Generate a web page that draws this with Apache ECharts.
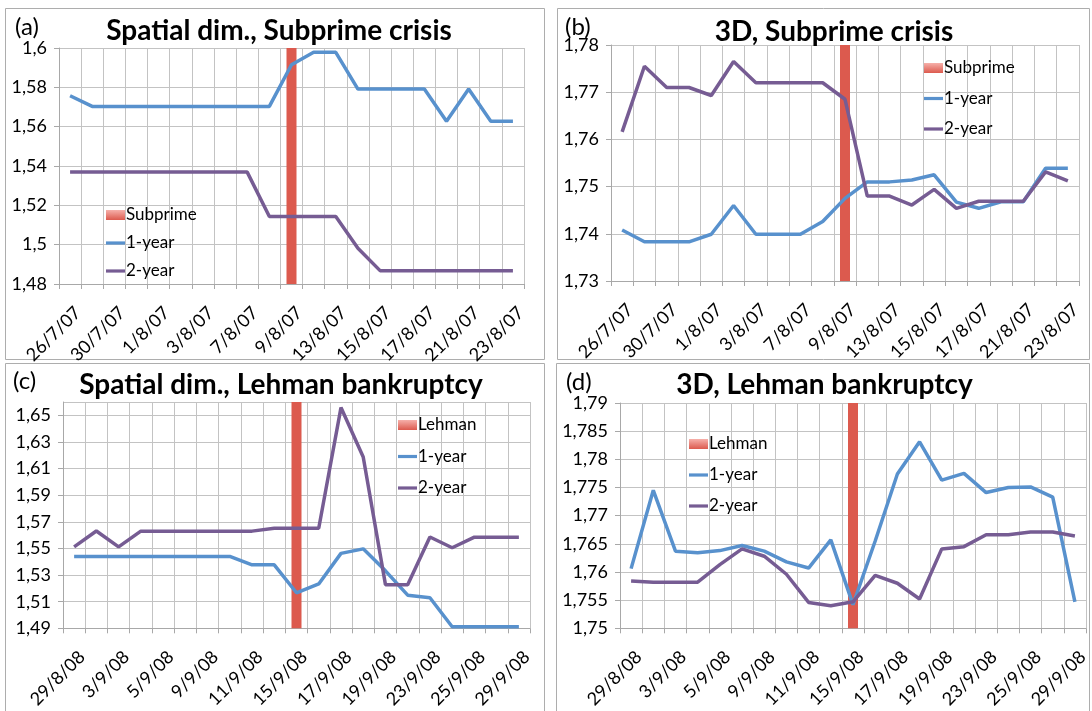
<!DOCTYPE html>
<html>
<head>
<meta charset="utf-8">
<script src="https://cdn.jsdelivr.net/npm/echarts@6/dist/echarts.min.js"></script>
<style>
html,body{margin:0;padding:0;background:#fff;}
#chart{width:1092px;height:711px;}
</style>
</head>
<body>
<div id="chart"></div>
<script>
// ---- categories (trading days) ----
const subprimeDates = ['26/7/07','27/7/07','30/7/07','31/7/07','1/8/07','2/8/07','3/8/07','6/8/07','7/8/07','8/8/07','9/8/07','10/8/07','13/8/07','14/8/07','15/8/07','16/8/07','17/8/07','20/8/07','21/8/07','22/8/07','23/8/07'];
const lehmanDates = ['29/8/08','2/9/08','3/9/08','4/9/08','5/9/08','8/9/08','9/9/08','10/9/08','11/9/08','12/9/08','15/9/08','16/9/08','17/9/08','18/9/08','19/9/08','22/9/08','23/9/08','24/9/08','25/9/08','26/9/08','29/9/08'];
const subprimeEventDate = '9/8/07';
const lehmanEventDate = '15/9/08';

// ---- series values ----
const spatialSubprime1y = [1.5757,1.5703,1.5703,1.5703,1.5703,1.5703,1.5703,1.5703,1.5703,1.5703,1.5915,1.5978,1.5978,1.5791,1.5791,1.5791,1.5791,1.5627,1.5791,1.5627,1.5627];
const spatialSubprime2y = [1.5369,1.5369,1.5369,1.5369,1.5369,1.5369,1.5369,1.5369,1.5369,1.5143,1.5143,1.5143,1.5143,1.4982,1.4868,1.4868,1.4868,1.4868,1.4868,1.4868,1.4868];
const d3Subprime1y = [1.7408,1.7383,1.7383,1.7383,1.7399,1.7460,1.7399,1.7399,1.7399,1.7426,1.7475,1.7510,1.7510,1.7514,1.7525,1.7467,1.7454,1.7468,1.7468,1.7539,1.7539];
const d3Subprime2y = [1.7616,1.7755,1.7710,1.7710,1.7693,1.7765,1.7720,1.7720,1.7720,1.7720,1.7685,1.7480,1.7480,1.7461,1.7494,1.7454,1.7469,1.7469,1.7469,1.7531,1.7512];
const spatialLehman1y = [1.5440,1.5440,1.5440,1.5440,1.5440,1.5440,1.5440,1.5440,1.5377,1.5377,1.5167,1.5233,1.5463,1.5497,1.5332,1.5149,1.5130,1.4912,1.4912,1.4912,1.4912];
const spatialLehman2y = [1.5512,1.5631,1.5512,1.5630,1.5630,1.5630,1.5630,1.5630,1.5630,1.5652,1.5652,1.5652,1.6558,1.6187,1.5228,1.5228,1.5586,1.5505,1.5585,1.5585,1.5585];
const d3Lehman1y = [1.7606,1.7745,1.7637,1.7634,1.7638,1.7647,1.7637,1.7618,1.7607,1.7657,1.7542,1.7655,1.7774,1.7831,1.7763,1.7775,1.7741,1.7750,1.7751,1.7733,1.7547];
const d3Lehman2y = [1.7584,1.7582,1.7582,1.7582,1.7613,1.7641,1.7628,1.7596,1.7546,1.7540,1.7547,1.7594,1.7580,1.7552,1.7641,1.7645,1.7666,1.7666,1.7671,1.7671,1.7664];

// ---- value axis ranges (min, max, step) ----
const axisA = [1.48, 1.60, 0.02];
const axisB = [1.73, 1.78, 0.01];
const axisC = [1.49, 1.66, 0.02];
const axisD = [1.75, 1.79, 0.005];

// ---- titles ----
const titles = ['Spatial dim., Subprime crisis','3D, Subprime crisis','Spatial dim., Lehman bankruptcy','3D, Lehman bankruptcy'];
const panelTags = ['(a)','(b)','(c)','(d)'];

// ---- layout (not data) ----
const FONT = 'Lato, "Open Sans", sans-serif';
const BLUE = '#5891CD', PURPLE = '#765C93', RED = '#DC5A4E';
const GRID_C = '#C3C3C3', AXIS_C = '#A8A8A8';
const LINE_ICON = 'path://M0,0 M19,10 M0,3.4 L19,3.4 L19,6.6 L0,6.6 Z';
const panels = [
  {grid:{left:59, top:48, width:465, height:236}, dates:subprimeDates, ev:subprimeEventDate, evName:'Subprime', y1:spatialSubprime1y, y2:spatialSubprime2y, ax:axisA,
   legend:{left:106, top:206, itemGap:10}, box:[5,8,544,359], title:[279,31], tag:[15,27]},
  {grid:{left:611, top:45, width:468, height:236}, dates:subprimeDates, ev:subprimeEventDate, evName:'Subprime', y1:d3Subprime1y, y2:d3Subprime2y, ax:axisB,
   legend:{left:924, top:59, itemGap:12.5}, box:[557,8,1089,359], title:[834,32], tag:[565,27.5]},
  {grid:{left:63, top:402, width:467, height:229}, dates:lehmanDates, ev:lehmanEventDate, evName:'Lehman', y1:spatialLehman1y, y2:spatialLehman2y, ax:axisC,
   legend:{left:398, top:416, itemGap:13.5}, box:[5,363,544,720], title:[281,385], tag:[13,381]},
  {grid:{left:620, top:403, width:466, height:234}, dates:lehmanDates, ev:lehmanEventDate, evName:'Lehman', y1:d3Lehman1y, y2:d3Lehman2y, ax:axisD,
   legend:{left:689, top:435, itemGap:13}, box:[556,363,1089,720], title:[824.5,385], tag:[566,382.5]}
];

function fmt(v){ return String(+(+v).toFixed(4)).replace('.', ','); }

const chart = echarts.init(document.getElementById('chart'), null, {renderer:'canvas'});
const option = {animation:false, backgroundColor:'#fff', grid:[], xAxis:[], yAxis:[], series:[], legend:[], graphic:[]};

panels.forEach((p, i) => {
  option.grid.push(Object.assign({containLabel:false}, p.grid));
  option.xAxis.push({
    type:'category', gridIndex:i, data:p.dates, boundaryGap:true,
    axisLine:{show:true, lineStyle:{color:AXIS_C, width:1}},
    axisTick:{show:true, interval:0, length:5, lineStyle:{color:AXIS_C}},
    axisLabel:{interval:1, rotate:45, fontSize:18, fontFamily:FONT, color:'#000', margin:18, verticalAlign:'top', padding:[2,0,0,0]},
    splitLine:{show:true, interval:0, lineStyle:{color:GRID_C, width:1}}
  });
  option.yAxis.push({
    type:'value', gridIndex:i, min:p.ax[0], max:p.ax[1], interval:p.ax[2],
    axisLine:{show:true, lineStyle:{color:AXIS_C, width:1}},
    axisTick:{show:true, length:5, lineStyle:{color:AXIS_C}},
    axisLabel:{fontSize:18, fontFamily:FONT, color:'#000', margin:12, formatter:fmt, showMaxLabel: i !== 2},
    splitLine:{show:true, lineStyle:{color:GRID_C, width:1}}
  });
  option.series.push({
    name:p.evName, type:'bar', xAxisIndex:i, yAxisIndex:i, barWidth:10,
    data:p.dates.map(d => d === p.ev ? p.ax[1] : null),
    itemStyle:{color:RED}, z:2
  });
  option.series.push({
    name:'1-year', type:'line', xAxisIndex:i, yAxisIndex:i, data:p.y1, symbol:'none',
    lineStyle:{color:BLUE, width:3.5}, itemStyle:{color:BLUE}, z:3
  });
  option.series.push({
    name:'2-year', type:'line', xAxisIndex:i, yAxisIndex:i, data:p.y2, symbol:'none',
    lineStyle:{color:PURPLE, width:3.5}, itemStyle:{color:PURPLE}, z:3
  });
  option.legend.push({
    orient:'vertical', left:p.legend.left, top:p.legend.top, itemGap:p.legend.itemGap, padding:0,
    itemWidth:19, itemHeight:10, selectedMode:false,
    textStyle:{fontSize:17, fontFamily:FONT, color:'#000', lineHeight:18, padding:[0,0,0,-4]},
    data:[
      {name:p.evName, icon:'rect', itemStyle:{color:new echarts.graphic.LinearGradient(0,0,0,1,[{offset:0,color:'#F6B0AA'},{offset:1,color:RED}])}},
      {name:'1-year', icon:LINE_ICON, itemStyle:{color:BLUE}},
      {name:'2-year', icon:LINE_ICON, itemStyle:{color:PURPLE}}
    ]
  });
  const b = p.box;
  option.graphic.push({type:'rect', shape:{x:b[0]+0.5, y:b[1]+0.5, width:b[2]-b[0], height:b[3]-b[1]}, style:{fill:null, stroke:'#ADADAD', lineWidth:1}, silent:true, z:0});
  option.graphic.push({type:'text', x:p.title[0], y:p.title[1], style:{text:titles[i], font:'bold 28px ' + FONT, fill:'#000', align:'center', verticalAlign:'middle'}, z:10});
  option.graphic.push({type:'text', x:p.tag[0], y:p.tag[1], style:{text:panelTags[i], font:'24px ' + FONT, fill:'#000', align:'left', verticalAlign:'middle'}, z:10});
});

chart.setOption(option);
</script>
</body>
</html>
